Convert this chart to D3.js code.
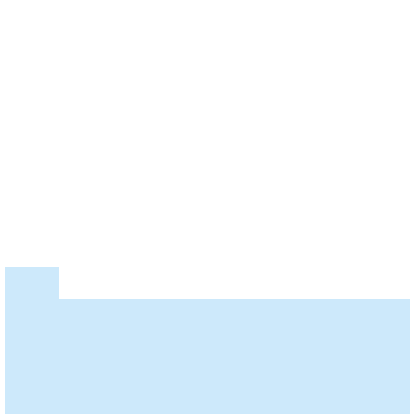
<!DOCTYPE html>
<html>
<head>
<meta charset="utf-8">
<script src="https://cdn.jsdelivr.net/npm/d3@7"></script>
<style>
  html, body { margin: 0; padding: 0; background: #fff; }
  svg { display: block; }
</style>
</head>
<body>
<svg id="chart" width="415" height="415"></svg>
<script>
// step positions along x and the level held from each one
const steps = [0, 2, 15];
const levels = [35.5, 27.8, 27.8];

const width = 415;
const height = 415;
const margin = { top: 0, right: 5, bottom: 1, left: 5 };

const svg = d3.select("#chart");

const x = d3.scaleLinear()
  .domain([0, 15])
  .range([margin.left, width - margin.right]);

const y = d3.scaleLinear()
  .domain([0, 100])
  .range([height - margin.bottom, 0]);

const data = steps.map((s, i) => ({ s, v: levels[i] }));

const area = d3.area()
  .curve(d3.curveStepAfter)
  .x((d) => x(d.s))
  .y0(y(0))
  .y1((d) => y(d.v));

svg.append("path")
  .datum(data)
  .attr("fill", "#cde9fb")
  .attr("d", area);
</script>
</body>
</html>
